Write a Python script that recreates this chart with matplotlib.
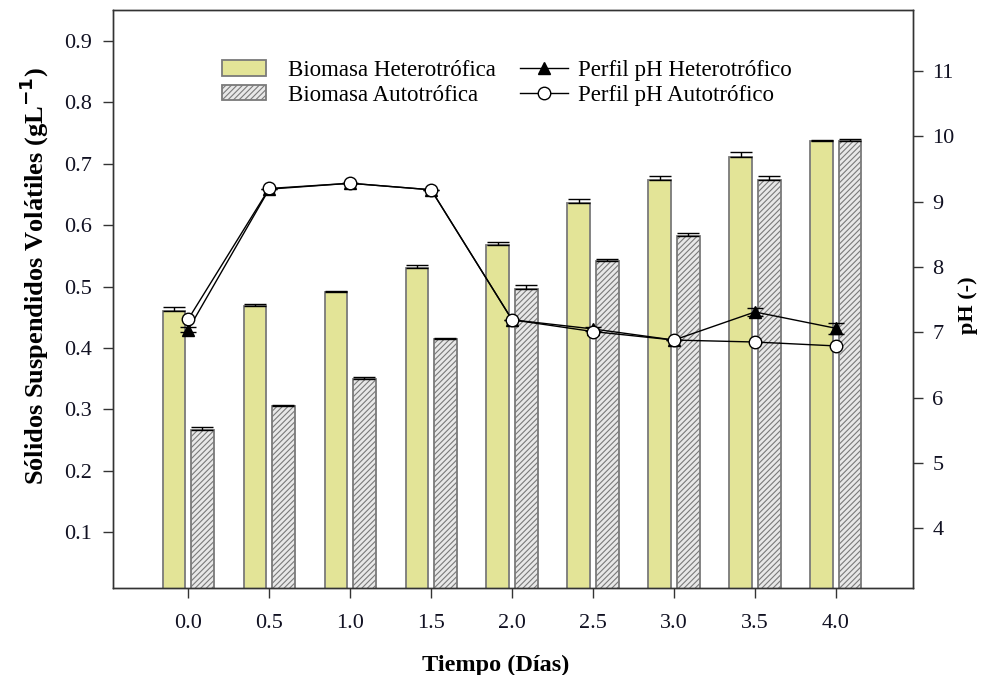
import matplotlib.pyplot as plt
import numpy as np

plt.rcParams['font.family'] = ['Liberation Serif', 'DejaVu Serif']
plt.rcParams['hatch.linewidth'] = 0.8

dias = np.array([0.0, 0.5, 1.0, 1.5, 2.0, 2.5, 3.0, 3.5, 4.0])
tick_labels = ['0.0', '0.5', '1.0', '1.5', '2.0', '2.5', '3.0', '3.5', '4.0']

# biomasa (SSV, g/L) y su desviacion
ssv_het = np.array([0.460, 0.468, 0.492, 0.530, 0.568, 0.636, 0.673, 0.711, 0.737])
err_het = np.array([0.006, 0.004, 0.001, 0.006, 0.004, 0.006, 0.008, 0.008, 0.002])
ssv_aut = np.array([0.267, 0.306, 0.349, 0.414, 0.496, 0.542, 0.582, 0.673, 0.737])
err_aut = np.array([0.005, 0.001, 0.004, 0.003, 0.007, 0.003, 0.006, 0.007, 0.004])

# perfiles de pH
ph_het = np.array([7.04, 9.19, 9.28, 9.18, 7.19, 7.05, 6.88, 7.31, 7.06])
ph_het_err = np.array([0.04, 0.0, 0.0, 0.0, 0.0, 0.03, 0.0, 0.06, 0.08])
ph_aut = np.array([7.20, 9.20, 9.28, 9.18, 7.19, 7.01, 6.88, 6.85, 6.79])

fig = plt.figure(figsize=(9.84, 6.75), dpi=100)
ax = fig.add_axes([0.1148, 0.129, 0.813, 0.856])
ax2 = ax.twinx()

w = 0.14
off = 0.088
z = np.zeros_like(ssv_het)
b1 = ax.bar(dias - off, ssv_het, w, color='#e3e497', edgecolor='#7a7a7a', lw=1.3)
b2 = ax.bar(dias + off, ssv_aut, w, color='#e8e8e8', edgecolor='#7a7a7a', lw=1.3,
            hatch='//////')
ax.errorbar(dias - off, ssv_het, yerr=[z, err_het], fmt='none', ecolor='black',
            elinewidth=1, capsize=8, capthick=1)
ax.errorbar(dias + off, ssv_aut, yerr=[z, err_aut], fmt='none', ecolor='black',
            elinewidth=1, capsize=8, capthick=1)

eb = ax2.errorbar(dias, ph_het, yerr=ph_het_err, color='black', lw=1, marker='^',
                  ms=9, mfc='black', mec='black', capsize=6, elinewidth=1, zorder=3)
l1 = eb[0]
l2, = ax2.plot(dias, ph_aut, color='black', lw=1, marker='o', ms=9, mfc='white',
               mec='black', mew=1, zorder=5)

ax.set_xlim(-0.465, 4.476)
ax.set_ylim(0.009, 0.9505)
ax2.set_ylim(3.086, 11.93)
ax.set_xticks(dias)
ax.set_xticklabels(tick_labels)
ax.set_yticks(np.arange(0.1, 0.95, 0.1))
ax.set_yticklabels(['%.1f' % v for v in np.arange(0.1, 0.95, 0.1)])
ax2.set_yticks(range(4, 12))

for a in (ax, ax2):
    a.tick_params(direction='out', length=7, width=1, colors='#333333',
                  labelcolor='#111122', labelsize=16)
    for s in a.spines.values():
        s.set_color('#333333')
        s.set_linewidth(1)
ax.tick_params(axis='x', pad=12)
ax.tick_params(axis='y', pad=8)
ax2.tick_params(axis='y', pad=7)

ax.set_xlabel('Tiempo (Días)', fontsize=17.5, fontweight='bold')
ax.xaxis.set_label_coords(0.479, -0.115)
ax.set_ylabel('Sólidos Suspendidos Volátiles (gL$^{\\mathbf{-1}}$)', fontsize=19,
              fontweight='bold')
ax.yaxis.set_label_coords(-0.078, 0.54)
ax2.set_ylabel('pH (-)', fontsize=16, fontweight='bold')
ax2.yaxis.set_label_coords(1.056, 0.49)

leg1 = fig.legend([b1, b2], ['Biomasa Heterotrófica', 'Biomasa Autotrófica'],
                  loc='upper left', bbox_to_anchor=(0.2256, 0.911), frameon=False,
                  fontsize=16.5, borderpad=0, borderaxespad=0, handlelength=1.92,
                  handleheight=0.65, handletextpad=0.96, labelspacing=0.15)
leg2 = fig.legend([l1, l2], ['Perfil pH Heterotrófico', 'Perfil pH Autotrófico'],
                  loc='upper left', bbox_to_anchor=(0.528, 0.911), frameon=False,
                  fontsize=16.5, borderpad=0, borderaxespad=0, handlelength=2.1,
                  handletextpad=0.44, labelspacing=0.15)

fig.savefig('out.png', dpi=100)
